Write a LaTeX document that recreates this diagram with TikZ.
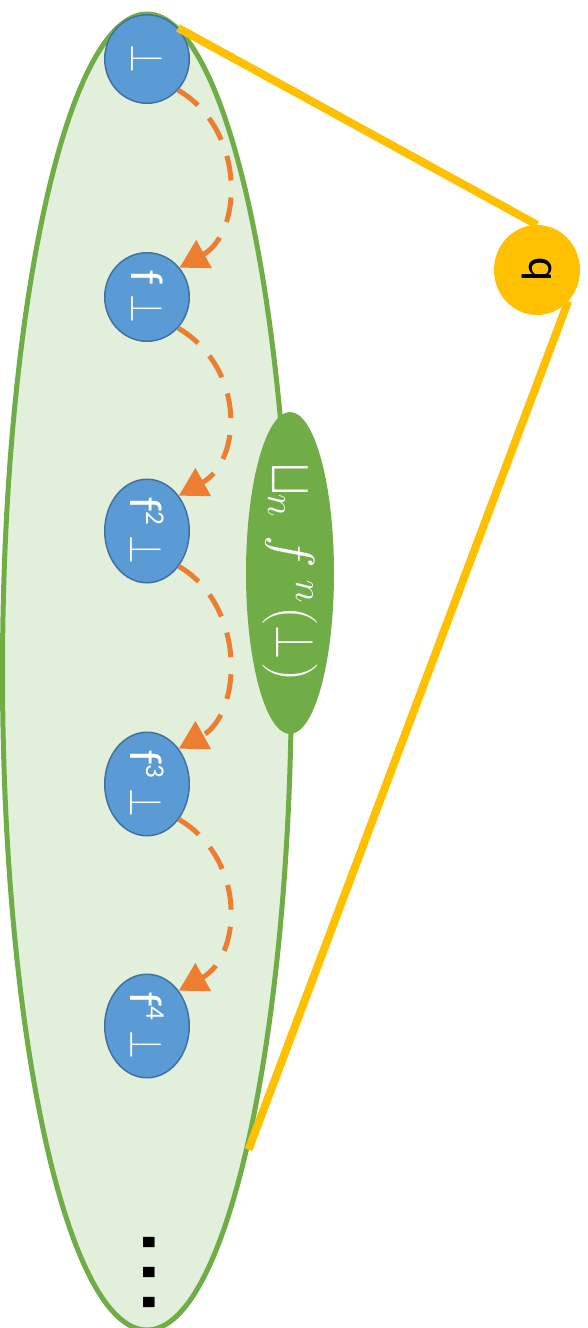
\RequirePackage{fix-cm}
\documentclass[tikz,border=0pt]{standalone}
\usepackage{exscale}
\usepackage{fontspec}
\usepackage{graphicx}
\newfontfamily\calib{Carlito}
\newfontfamily\arialf{Liberation Sans}
\usetikzlibrary{arrows.meta,shapes.geometric}
\definecolor{bgfill}{HTML}{E2EFDA}
\definecolor{dgreen}{HTML}{70AD47}
\definecolor{bblue}{HTML}{5B9BD5}
\definecolor{bblueline}{HTML}{41719C}
\definecolor{orng}{HTML}{ED7D31}
\definecolor{ylw}{HTML}{FFC000}
\newcommand{\nbot}{\scalebox{0.8}[1]{$\bot$}}
\newcommand{\sups}[1]{\raisebox{16pt}{\fontsize{27}{27}\selectfont #1}}
\newcommand{\bigjoin}{\mathop{\vcenter{\hbox{\scalebox{1.45}{$\bigsqcup$}}}}\nolimits}
\tikzset{
  bignode/.style={ellipse, draw=dgreen, fill=bgfill, line width=5pt, inner sep=0pt},
  bnode/.style={ellipse, draw=bblueline, fill=bblue, line width=1.5pt, inner sep=0pt,
    minimum width=84.5pt, text=white, font=\calib\fontsize{46}{50}\selectfont},
  labnode/.style={ellipse, fill=dgreen, inner sep=0pt, minimum width=88pt, minimum height=322pt,
    text=white, font=\fontsize{55}{60}\selectfont},
  qnode/.style={ellipse, fill=ylw, inner sep=0pt, minimum width=86pt, minimum height=90pt,
    font=\calib\fontsize{46}{50}\selectfont},
  farrow/.style={draw=orng, line width=5pt, dash pattern=on 25pt off 17pt,
    -{Triangle[length=28pt,width=31pt]}},
  yline/.style={draw=ylw, line width=8pt},
  dotsnode/.style={inner sep=0pt, font=\arialf\fontsize{108}{108}\selectfont}
}
\begin{document}
\begin{tikzpicture}[x=1pt,y=-1pt]
\useasboundingbox (0,0) rectangle (588,1328);
\node[bignode, minimum width=289pt, minimum height=1316pt] (big) at (147,672) {};
\node[labnode] (lab) at (290,573) {\rotatebox{-90}{$\bigjoin_{n}\,f^{\kern12pt n}\kern3pt(\mathord{\nbot}\kern2pt)$}};
\node[bnode, minimum height=88.5pt] (n0) at (147,59) {\rotatebox{-90}{\nbot}};
\node[bnode, minimum height=88.5pt] (n1) at (147,297) {\rotatebox{-90}{f \nbot}};
\node[bnode, minimum height=103.5pt] (n2) at (147,531) {\rotatebox{-90}{f\sups{2} \nbot}};
\node[bnode, minimum height=103.5pt] (n3) at (147,784) {\rotatebox{-90}{f\sups{3} \nbot}};
\node[bnode, minimum height=103.5pt] (n4) at (147,1026) {\rotatebox{-90}{f\sups{4} \nbot}};
\node[qnode] (q) at (537,270) {\rotatebox{-90}{q}};
\node[dotsnode] (dots) at (149,1272) {\rotatebox{-90}{...}};
\draw[farrow] (n0.-45) .. controls +(68,40) and +(63,-35) .. (n1.42);
\draw[farrow] (n1.-45) .. controls +(68,40) and +(63,-35) .. (n2.48);
\draw[farrow] (n2.-48) .. controls +(68,40) and +(63,-35) .. (n3.48);
\draw[farrow] (n3.-48) .. controls +(68,40) and +(63,-35) .. (n4.48);
\draw[yline] (n0.45) -- (q.north);
\draw[yline] (q.-45) -- (big.-78);
\end{tikzpicture}
\end{document}
